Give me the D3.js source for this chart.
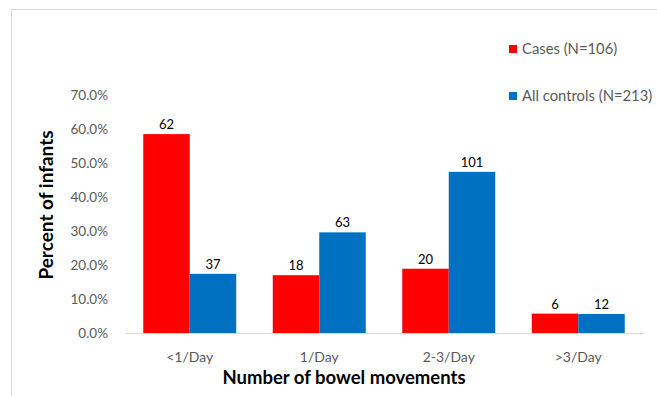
<!DOCTYPE html>
<html><head><meta charset="utf-8">
<script src="https://cdn.jsdelivr.net/npm/d3@7"></script>
<style>body{margin:0;background:#fff}svg{display:block}</style>
</head><body>
<svg id="c" width="657" height="396"></svg>
<script>
const categories = ["<1/Day", "1/Day", "2-3/Day", ">3/Day"];
const seriesNames = ["Cases (N=106)", "All controls (N=213)"];
const casesPct = [0.585, 0.170, 0.189, 0.057];
const controlsPct = [0.174, 0.296, 0.474, 0.056];
const casesCounts = [62, 18, 20, 6];
const controlsCounts = [37, 63, 101, 12];
const yTicks = [0, 0.1, 0.2, 0.3, 0.4, 0.5, 0.6, 0.7];
const colors = ["#FF0000", "#0070C0"];

const svg = d3.select("#c");
const font = "Lato, 'Open Sans', sans-serif";

svg.append("rect").attr("x", 11.5).attr("y", 9.5).attr("width", 700).attr("height", 500)
  .attr("fill", "none").attr("stroke", "#d9d9d9");

const x = d3.scaleBand().domain(categories).range([125, 643]).paddingInner(0.282).paddingOuter(0.141);
const xs = d3.scaleBand().domain([0, 1]).range([0, x.bandwidth()]);
const y = d3.scaleLinear().domain([0, 0.7]).range([333, 95]);

const series = [
  {vals: casesPct, counts: casesCounts},
  {vals: controlsPct, counts: controlsCounts}
];

// y axis labels
const yAxis = d3.axisLeft(y).tickValues(yTicks).tickFormat(d3.format(".1%")).tickSize(0).tickPadding(17);
const yg = svg.append("g").attr("transform", "translate(125,0)").call(yAxis);
yg.select(".domain").remove();
yg.selectAll("text").attr("font-family", font).attr("font-size", 13.5).attr("fill", "#595959");

// bars
series.forEach((s, si) => {
  const g = svg.append("g");
  g.selectAll("rect").data(categories).join("rect")
    .attr("x", c => x(c) + xs(si))
    .attr("width", xs.bandwidth())
    .attr("y", (c, i) => y(s.vals[i]))
    .attr("height", (c, i) => y(0) - y(s.vals[i]))
    .attr("fill", colors[si]);
  g.selectAll("text").data(categories).join("text")
    .attr("x", c => x(c) + xs(si) + xs.bandwidth() / 2)
    .attr("y", (c, i) => y(s.vals[i]) - 5)
    .attr("text-anchor", "middle")
    .attr("font-family", font).attr("font-size", 13).attr("fill", "#000")
    .text((c, i) => s.counts[i]);
});

// x axis
const xAxis = d3.axisBottom(x).tickSize(0).tickPadding(19);
const xg = svg.append("g").attr("transform", "translate(0,333)").call(xAxis);
xg.select(".domain").attr("stroke", "#d9d9d9").attr("stroke-width", 1);
xg.selectAll("text").attr("font-family", font).attr("font-size", 14).attr("fill", "#595959");

// axis titles
svg.append("text").attr("x", 344).attr("y", 384).attr("text-anchor", "middle")
  .attr("font-family", font).attr("font-weight", "bold").attr("font-size", 18.5).attr("fill", "#000")
  .text("Number of bowel movements");
svg.append("text").attr("transform", "translate(53,205) rotate(-90)").attr("text-anchor", "middle")
  .attr("font-family", font).attr("font-weight", "bold").attr("font-size", 19).attr("fill", "#000")
  .text("Percent of infants");

// legend
const legY = [49, 96];
seriesNames.forEach((n, i) => {
  svg.append("rect").attr("x", 509).attr("y", legY[i] - 4).attr("width", 8).attr("height", 8).attr("fill", colors[i]);
  svg.append("text").attr("x", 522).attr("y", legY[i]).attr("dy", "0.35em")
    .attr("font-family", font).attr("font-size", 14.8).attr("fill", "#595959").text(n);
});
</script>
</body></html>
